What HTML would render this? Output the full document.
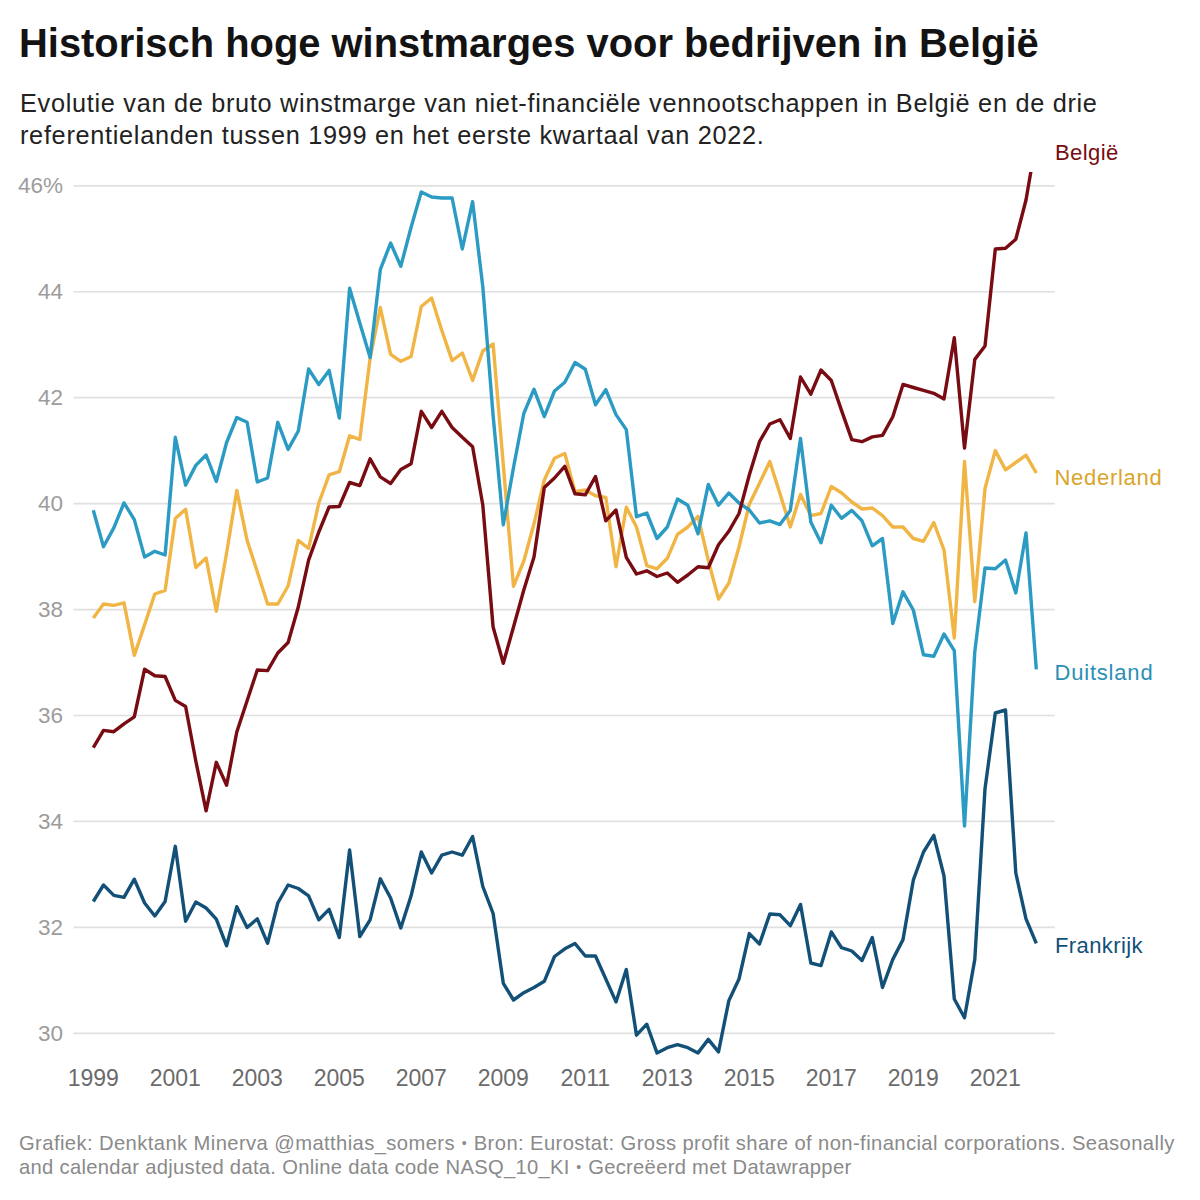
<!DOCTYPE html>
<html><head><meta charset="utf-8"><title>Historisch hoge winstmarges</title>
<style>
html,body{margin:0;padding:0;background:#fff;}
body{width:1200px;height:1200px;overflow:hidden;position:relative;font-family:"Liberation Sans",sans-serif;}
#title{position:absolute;left:19px;top:20.5px;font-size:39.9px;font-weight:bold;color:#131313;white-space:nowrap;line-height:44px;}
#sub{position:absolute;left:20px;top:87px;font-size:25.3px;letter-spacing:0.7px;color:#222;white-space:nowrap;line-height:32px;}
#foot{position:absolute;left:19px;top:1130.5px;font-size:20.2px;letter-spacing:0.41px;color:#8a8a8a;white-space:nowrap;line-height:24.3px;}
svg{position:absolute;left:0;top:0;}
.g line{stroke:#e0e0e0;stroke-width:1.7;}
.yl text{font-size:22.5px;fill:#9c9c9c;text-anchor:end;}
.xl text{font-size:23px;fill:#6b6b6b;text-anchor:middle;}
.ln path{fill:none;stroke-width:3.4;stroke-linejoin:round;stroke-linecap:butt;}
.lb text{font-size:22px;}
.b{font-size:14px;line-height:0;position:relative;top:-2px;margin:0 0.7px;}
</style></head><body>
<div id="title">Historisch hoge winstmarges voor bedrijven in België</div>
<div id="sub">Evolutie van de bruto winstmarge van niet-financiële vennootschappen in België en de drie<br>referentielanden tussen 1999 en het eerste kwartaal van 2022.</div>
<svg width="1200" height="1200" viewBox="0 0 1200 1200" font-family="Liberation Sans, sans-serif">
<defs><clipPath id="cp"><rect x="75" y="172" width="985" height="900"/></clipPath></defs>
<g class="g"><line x1="73.5" x2="1054.8" y1="185.80" y2="185.80"/><line x1="73.5" x2="1054.8" y1="291.74" y2="291.74"/><line x1="73.5" x2="1054.8" y1="397.68" y2="397.68"/><line x1="73.5" x2="1054.8" y1="503.62" y2="503.62"/><line x1="73.5" x2="1054.8" y1="609.56" y2="609.56"/><line x1="73.5" x2="1054.8" y1="715.50" y2="715.50"/><line x1="73.5" x2="1054.8" y1="821.44" y2="821.44"/><line x1="73.5" x2="1054.8" y1="927.38" y2="927.38"/><line x1="73.5" x2="1054.8" y1="1033.32" y2="1033.32"/></g>
<g class="yl"><text x="63" y="193.30">46%</text><text x="63" y="299.24">44</text><text x="63" y="405.18">42</text><text x="63" y="511.12">40</text><text x="63" y="617.06">38</text><text x="63" y="723.00">36</text><text x="63" y="828.94">34</text><text x="63" y="934.88">32</text><text x="63" y="1040.82">30</text></g>
<g class="xl"><text x="93.3" y="1085.5">1999</text><text x="175.3" y="1085.5">2001</text><text x="257.3" y="1085.5">2003</text><text x="339.3" y="1085.5">2005</text><text x="421.3" y="1085.5">2007</text><text x="503.3" y="1085.5">2009</text><text x="585.3" y="1085.5">2011</text><text x="667.3" y="1085.5">2013</text><text x="749.3" y="1085.5">2015</text><text x="831.3" y="1085.5">2017</text><text x="913.3" y="1085.5">2019</text><text x="995.3" y="1085.5">2021</text></g>
<g class="ln" clip-path="url(#cp)">
<path stroke="#f0b545" d="M93.3,618.0 L103.5,604.0 L113.8,605.4 L124.0,602.8 L134.3,655.4 L144.6,624.8 L154.8,594.0 L165.1,590.4 L175.3,518.5 L185.6,509.2 L195.8,567.5 L206.1,558.0 L216.3,611.3 L226.6,553.0 L236.8,490.4 L247.1,540.4 L257.3,571.7 L267.6,604.0 L277.8,604.0 L288.1,586.0 L298.3,540.4 L308.6,548.5 L318.8,503.0 L329.1,474.8 L339.3,471.7 L349.6,435.8 L359.8,439.4 L370.1,358.5 L380.3,307.5 L390.6,354.4 L400.8,361.3 L411.1,356.5 L421.3,306.5 L431.6,298.0 L441.8,330.4 L452.1,360.6 L462.3,353.0 L472.6,380.4 L482.8,351.0 L493.1,344.0 L503.3,465.0 L513.5,586.3 L523.8,561.0 L534.0,523.8 L544.3,480.0 L554.5,458.3 L564.8,453.5 L575.0,491.7 L585.3,490.0 L595.5,495.8 L605.8,497.5 L616.0,566.7 L626.3,507.3 L636.5,527.0 L646.8,565.6 L657.0,568.8 L667.3,558.3 L677.5,534.4 L687.8,527.0 L698.0,516.3 L708.3,560.4 L718.5,599.0 L728.8,583.3 L739.0,547.0 L749.3,504.2 L759.5,483.3 L769.8,461.5 L780.0,493.8 L790.3,527.0 L800.5,494.4 L810.8,515.6 L821.0,513.5 L831.3,486.5 L841.5,492.7 L851.8,502.0 L862.0,509.0 L872.3,508.0 L882.5,515.6 L892.8,527.0 L903.0,527.0 L913.3,538.5 L923.5,541.3 L933.8,522.5 L944.0,550.0 L954.3,638.0 L964.5,461.5 L974.8,601.7 L985.0,488.5 L995.3,450.6 L1005.5,469.8 L1015.8,462.5 L1026.0,455.2 L1036.3,473.0"/>
<path stroke="#2b9bc4" d="M93.3,510.2 L103.5,546.7 L113.8,527.9 L124.0,502.9 L134.3,519.6 L144.6,557.1 L154.8,551.3 L165.1,555.0 L175.3,437.3 L185.6,485.2 L195.8,465.4 L206.1,455.0 L216.3,481.5 L226.6,442.5 L236.8,417.5 L247.1,422.3 L257.3,482.0 L267.6,478.0 L277.8,422.3 L288.1,449.4 L298.3,431.0 L308.6,369.0 L318.8,384.6 L329.1,370.4 L339.3,418.0 L349.6,288.3 L359.8,323.0 L370.1,357.5 L380.3,269.6 L390.6,243.0 L400.8,266.3 L411.1,227.3 L421.3,191.9 L431.6,197.0 L441.8,198.0 L452.1,198.0 L462.3,249.0 L472.6,201.7 L482.8,286.7 L493.1,415.5 L503.3,524.8 L513.5,467.5 L523.8,413.5 L534.0,389.2 L544.3,416.7 L554.5,391.0 L564.8,382.3 L575.0,362.5 L585.3,369.2 L595.5,404.8 L605.8,389.6 L616.0,414.6 L626.3,429.6 L636.5,516.7 L646.8,513.0 L657.0,538.5 L667.3,527.0 L677.5,499.0 L687.8,505.2 L698.0,533.8 L708.3,484.4 L718.5,505.2 L728.8,493.0 L739.0,503.0 L749.3,510.0 L759.5,523.0 L769.8,520.8 L780.0,524.6 L790.3,510.4 L800.5,438.5 L810.8,522.0 L821.0,542.7 L831.3,505.2 L841.5,518.3 L851.8,510.4 L862.0,520.8 L872.3,545.8 L882.5,538.5 L892.8,623.5 L903.0,591.8 L913.3,610.0 L923.5,654.8 L933.8,656.3 L944.0,634.0 L954.3,650.6 L964.5,826.0 L974.8,651.7 L985.0,568.0 L995.3,568.8 L1005.5,560.0 L1015.8,593.0 L1026.0,533.0 L1036.3,669.4"/>
<path stroke="#125078" d="M93.3,901.5 L103.5,885.0 L113.8,895.4 L124.0,897.3 L134.3,879.2 L144.6,903.0 L154.8,916.0 L165.1,901.5 L175.3,846.3 L185.6,921.3 L195.8,902.0 L206.1,908.0 L216.3,919.2 L226.6,945.8 L236.8,906.7 L247.1,927.5 L257.3,918.8 L267.6,943.3 L277.8,903.0 L288.1,885.0 L298.3,888.5 L308.6,895.8 L318.8,919.8 L329.1,909.4 L339.3,937.5 L349.6,850.0 L359.8,936.5 L370.1,919.8 L380.3,878.8 L390.6,898.0 L400.8,928.0 L411.1,895.8 L421.3,852.0 L431.6,873.0 L441.8,855.2 L452.1,852.0 L462.3,855.2 L472.6,836.5 L482.8,886.5 L493.1,913.5 L503.3,983.3 L513.5,1000.0 L523.8,992.7 L534.0,987.5 L544.3,981.3 L554.5,956.5 L564.8,948.8 L575.0,943.5 L585.3,956.0 L595.5,956.0 L605.8,979.0 L616.0,1001.9 L626.3,969.6 L636.5,1035.2 L646.8,1024.2 L657.0,1052.9 L667.3,1047.7 L677.5,1044.6 L687.8,1047.7 L698.0,1052.9 L708.3,1039.4 L718.5,1051.9 L728.8,1000.8 L739.0,979.0 L749.3,933.6 L759.5,944.0 L769.8,914.0 L780.0,914.8 L790.3,925.7 L800.5,904.4 L810.8,963.0 L821.0,965.6 L831.3,932.0 L841.5,947.7 L851.8,951.0 L862.0,960.5 L872.3,937.5 L882.5,987.5 L892.8,959.4 L903.0,939.6 L913.3,880.2 L923.5,852.0 L933.8,835.4 L944.0,876.0 L954.3,999.0 L964.5,1017.7 L974.8,959.4 L985.0,788.7 L995.3,713.0 L1005.5,710.0 L1015.8,873.0 L1026.0,918.8 L1036.3,943.3"/>
<path stroke="#780c12" d="M93.3,747.7 L103.5,730.4 L113.8,731.7 L124.0,723.8 L134.3,716.9 L144.6,669.2 L154.8,675.8 L165.1,676.5 L175.3,700.4 L185.6,706.5 L195.8,761.0 L206.1,810.8 L216.3,762.3 L226.6,785.2 L236.8,732.0 L247.1,700.8 L257.3,670.0 L267.6,670.6 L277.8,653.0 L288.1,642.5 L298.3,607.0 L308.6,560.2 L318.8,532.0 L329.1,507.0 L339.3,506.5 L349.6,482.5 L359.8,485.6 L370.1,458.8 L380.3,476.9 L390.6,483.5 L400.8,469.6 L411.1,463.8 L421.3,411.3 L431.6,427.5 L441.8,411.3 L452.1,427.5 L462.3,437.3 L472.6,446.7 L482.8,505.0 L493.1,627.0 L503.3,663.3 L513.5,627.0 L523.8,590.0 L534.0,557.0 L544.3,487.4 L554.5,478.0 L564.8,466.3 L575.0,493.8 L585.3,494.8 L595.5,476.5 L605.8,520.8 L616.0,510.0 L626.3,557.3 L636.5,574.0 L646.8,570.8 L657.0,576.5 L667.3,573.0 L677.5,582.3 L687.8,575.0 L698.0,566.7 L708.3,567.7 L718.5,544.8 L728.8,531.3 L739.0,513.5 L749.3,475.0 L759.5,441.7 L769.8,424.0 L780.0,419.8 L790.3,438.5 L800.5,377.0 L810.8,394.2 L821.0,370.0 L831.3,380.5 L841.5,410.4 L851.8,439.6 L862.0,441.7 L872.3,436.9 L882.5,435.4 L892.8,416.7 L903.0,384.4 L913.3,387.5 L923.5,390.4 L933.8,393.3 L944.0,399.0 L954.3,337.8 L964.5,448.0 L974.8,359.4 L985.0,346.0 L995.3,249.0 L1005.5,248.3 L1015.8,239.2 L1026.0,200.0 L1036.3,140.0"/>
</g>
<g class="lb">
<text x="1055" y="160" fill="#750d10" letter-spacing="0.4">België</text>
<text x="1054.5" y="485.3" fill="#d9a52b" letter-spacing="0.7">Nederland</text>
<text x="1054.5" y="680.4" fill="#2b8fb5" letter-spacing="0.8">Duitsland</text>
<text x="1055" y="953.3" fill="#125078" letter-spacing="0.4">Frankrijk</text>
</g>
</svg>
<div id="foot">Grafiek: Denktank Minerva @matthias_somers <span class="b">•</span> Bron: Eurostat: Gross profit share of non-financial corporations. Seasonally<br><span style="letter-spacing:0.3px">and calendar adjusted data. Online data code NASQ_10_KI <span class="b">•</span> Gecreëerd met Datawrapper</span></div>
</body></html>
